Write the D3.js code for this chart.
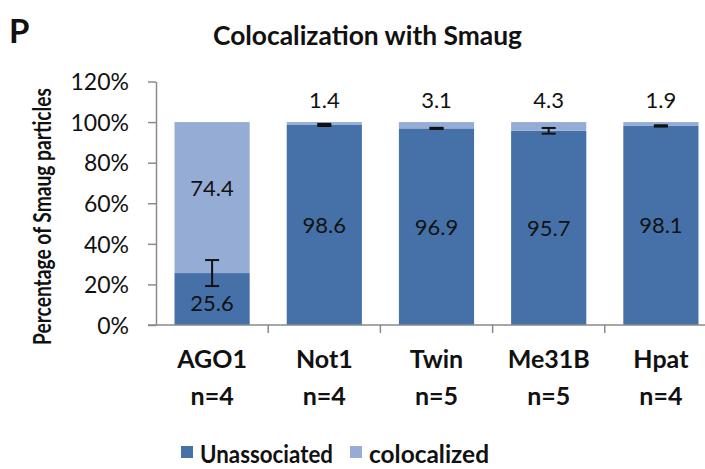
<!DOCTYPE html>
<meta charset="utf-8">
<script src="https://d3js.org/d3.v7.min.js"></script>
<style>
  body { margin: 0; background: #fff; }
  text { font-family: Lato, "Open Sans", sans-serif; fill: #111; }
</style>
<svg id="chart" width="705" height="469"></svg>
<script>

// data
var genes = ["AGO1", "Not1", "Twin", "Me31B", "Hpat"]
var nCounts = ["n=4", "n=4", "n=5", "n=5", "n=4"]
var unassociated = [25.6, 98.6, 96.9, 95.7, 98.1]
var colocalized = [74.4, 1.4, 3.1, 4.3, 1.9]
var errors = [6.4, 0.4, 0.15, 1.4, 0.2]
var yTicks = [0, 20, 40, 60, 80, 100, 120]

const svg = d3.select("#chart")
const plotLeft = 156, plotRight = 717, plotTop = 81.5, plotBottom = 325

const x = d3.scaleBand()
  .domain(genes)
  .range([plotLeft, plotRight])
  .paddingInner(0.33)
  .paddingOuter(0.165)

const y = d3.scaleLinear()
  .domain([0, 120])
  .range([plotBottom, plotTop])

// panel letter + title
svg.append("text").attr("x", 9).attr("y", 43)
  .style("font-size", "33px").style("font-weight", "bold").text("P")
svg.append("text").attr("x", 213).attr("y", 45)
  .attr("textLength", 309).attr("lengthAdjust", "spacingAndGlyphs")
  .style("font-size", "26px").style("font-weight", "bold")
  .text("Colocalization with Smaug")

// bars
const g = svg.append("g")
g.selectAll(".unas")
  .data(genes)
  .join("rect")
    .attr("x", d => x(d))
    .attr("width", x.bandwidth())
    .attr("y", (d, i) => y(unassociated[i]))
    .attr("height", (d, i) => y(0) - y(unassociated[i]))
    .attr("fill", "#4571a8")

g.selectAll(".coloc")
  .data(genes)
  .join("rect")
    .attr("x", d => x(d))
    .attr("width", x.bandwidth())
    .attr("y", (d, i) => y(unassociated[i] + colocalized[i]))
    .attr("height", (d, i) => y(unassociated[i]) - y(unassociated[i] + colocalized[i]))
    .attr("fill", "#95acd5")

// error bars
genes.forEach(function(d, i) {
  var cx = x(d) + x.bandwidth() / 2
  var hi = y(unassociated[i] + errors[i]), lo = y(unassociated[i] - errors[i])
  var sw = errors[i] < 1 ? 2.5 : 2
  g.append("line").attr("x1", cx).attr("x2", cx).attr("y1", hi).attr("y2", lo)
    .attr("stroke", "#111").attr("stroke-width", sw)
  g.append("line").attr("x1", cx - 7).attr("x2", cx + 7).attr("y1", hi).attr("y2", hi)
    .attr("stroke", "#111").attr("stroke-width", sw)
  g.append("line").attr("x1", cx - 7).attr("x2", cx + 7).attr("y1", lo).attr("y2", lo)
    .attr("stroke", "#111").attr("stroke-width", sw)
})

// value labels
genes.forEach(function(d, i) {
  var cx = x(d) + x.bandwidth() / 2
  var yU = i == 0 ? y(unassociated[i]) + 38 : y(unassociated[i] / 2) + 8
  g.append("text").attr("x", cx).attr("y", yU).attr("text-anchor", "middle")
    .style("font-size", "22px").text(unassociated[i])
  var yC = i == 0 ? y(unassociated[i] + colocalized[i] / 2) - 2 : y(100) - 14
  g.append("text").attr("x", cx).attr("y", yC).attr("text-anchor", "middle")
    .style("font-size", "22px").text(colocalized[i])
})

// axes
const yAxis = svg.append("g")
  .attr("transform", "translate(" + plotLeft + ",0)")
  .call(d3.axisLeft(y).tickValues(yTicks).tickFormat(d => d + "%").tickSize(8).tickSizeOuter(0))
yAxis.select(".domain").attr("stroke", "#8a8a8a").attr("stroke-width", 1.5)
yAxis.selectAll(".tick line").attr("stroke", "#8a8a8a").attr("stroke-width", 1.5)
yAxis.selectAll(".tick text").attr("x", -27).attr("dy", "0.36em")
  .style("font-size", "23px").style("font-family", "Lato, sans-serif").attr("fill", "#111")

const xAxisG = svg.append("g").attr("transform", "translate(0," + plotBottom + ")")
xAxisG.append("line").attr("x1", plotLeft - 8).attr("x2", plotRight).attr("y1", 0).attr("y2", 0)
  .attr("stroke", "#8a8a8a").attr("stroke-width", 1.5)
xAxisG.selectAll(".xt")
  .data(genes.slice(1))
  .join("line")
    .attr("x1", d => x(d) - x.step() * x.paddingInner() / 2)
    .attr("x2", d => x(d) - x.step() * x.paddingInner() / 2)
    .attr("y1", 0).attr("y2", 8)
    .attr("stroke", "#8a8a8a").attr("stroke-width", 1.5)

xAxisG.selectAll(".xl")
  .data(genes)
  .join("text")
    .attr("x", d => x(d) + x.bandwidth() / 2)
    .attr("y", 43).attr("text-anchor", "middle")
    .style("font-size", "25px").style("font-weight", "bold")
    .text(d => d)
xAxisG.selectAll(".xn")
  .data(genes)
  .join("text")
    .attr("x", d => x(d) + x.bandwidth() / 2)
    .attr("y", 80).attr("text-anchor", "middle")
    .style("font-size", "25px").style("font-weight", "bold")
    .text((d, i) => nCounts[i])

// y title
svg.append("text")
  .attr("transform", "translate(51,345) rotate(-90)")
  .attr("textLength", 257).attr("lengthAdjust", "spacingAndGlyphs")
  .style("font-size", "24px").style("font-weight", "bold")
  .text("Percentage of Smaug particles")

// legend
var legend = [["Unassociated", "#4571a8", 181, 133], ["colocalized", "#95acd5", 350, 120]]
legend.forEach(function(l) {
  svg.append("rect").attr("x", l[2]).attr("y", 446).attr("width", 12).attr("height", 12).attr("fill", l[1])
  svg.append("text").attr("x", l[2] + 19).attr("y", 463)
    .attr("textLength", l[3]).attr("lengthAdjust", "spacingAndGlyphs")
    .style("font-size", "24px").style("font-weight", "bold").text(l[0])
})
</script>
